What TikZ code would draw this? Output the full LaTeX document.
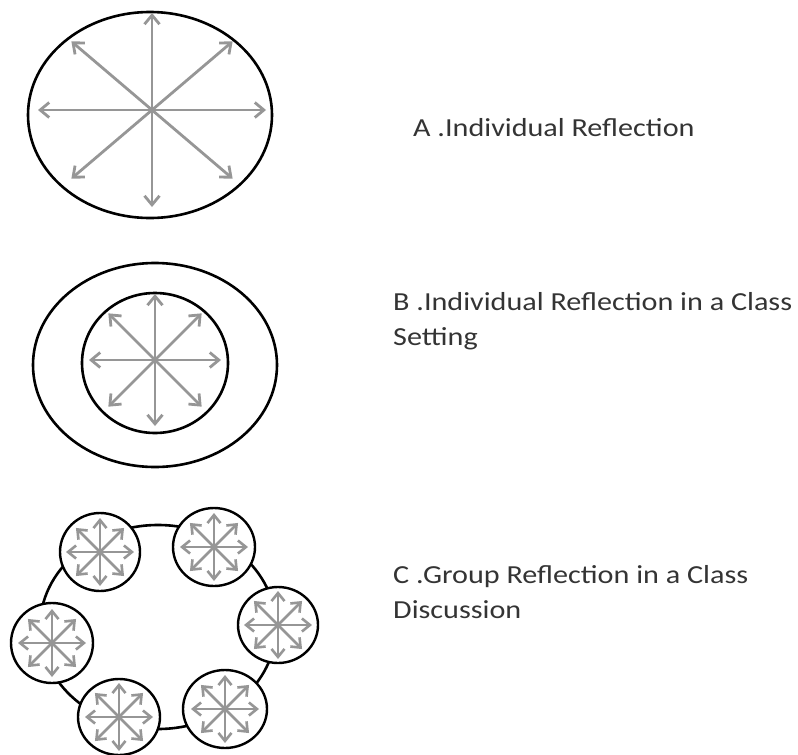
\documentclass[tikz,border=0pt]{standalone}
\usepackage{fontspec}
\setmainfont{Carlito}[FakeStretch=1.16]
\usetikzlibrary{arrows.meta,shapes.geometric}
\definecolor{raygray}{RGB}{150,150,150}
\definecolor{textgray}{RGB}{52,52,52}
\newcommand{\rays}[3]{
  \foreach \ang in {0,45,...,315}
    \draw[#3] (#1.center) -- ++(\ang:#2);
}

\begin{document}
\begin{tikzpicture}[x=1pt,y=-1pt]

%
% Styles
%
\tikzstyle{ring} = [ellipse,draw=black,line width=2.6pt,inner sep=0pt]
\tikzstyle{cell} = [ellipse,draw=black,fill=white,line width=2.4pt,inner sep=0pt]
\tikzstyle{ray} = [raygray,line width=2.8pt,-{Straight Barb[length=9pt,width=15pt,line width=2.8pt]}]
\tikzstyle{miniray} = [raygray,line width=2.6pt,-{Straight Barb[length=8pt,width=13pt,line width=2.6pt]}]
\tikzstyle{desc} = [anchor=base west,align=left,inner sep=0pt,text=textgray,font=\fontsize{26}{35}\selectfont]

\useasboundingbox (0,0) rectangle (798,755);

% A
\node[ring,minimum width=244pt,minimum height=206pt] (ovalA) at (150,115) {};
\coordinate (hubA) at (152,110);
\rays{hubA}{114 and 97}{ray}

% B
\node[ring,minimum width=244pt,minimum height=204pt] (outerB) at (155,365) {};
\node[ring,minimum width=146pt,minimum height=140pt] (innerB) at (155,363) {};
\coordinate (hubB) at (155,360);
\rays{hubB}{66}{ray}

% C
\node[ring,minimum width=236pt,minimum height=204pt] (tableC) at (158,627) {};
\node[cell,minimum width=80pt,minimum height=78pt] (c1) at (100,552) {};
\node[cell,minimum width=82pt,minimum height=78pt] (c2) at (214,547) {};
\node[cell,minimum width=80pt,minimum height=76pt] (c3) at (278,625) {};
\node[cell,minimum width=82pt,minimum height=80pt] (c4) at ( 52,643) {};
\node[cell,minimum width=82pt,minimum height=76pt] (c5) at (119,717) {};
\node[cell,minimum width=84pt,minimum height=78pt] (c6) at (225,709) {};
\foreach \n in {c1,c2,c3,c4,c5,c6}{
  \rays{\n}{34}{miniray}
}

% Labels
\node[desc] (capA) at (413,136) {A .Individual Reflection};
\node[desc] (capB) at (393,345) {B .Individual Reflection in a Class\\Setting};
\node[desc] (capC) at (393,618) {C .Group Reflection in a Class\\Discussion};

\end{tikzpicture}
\end{document}
